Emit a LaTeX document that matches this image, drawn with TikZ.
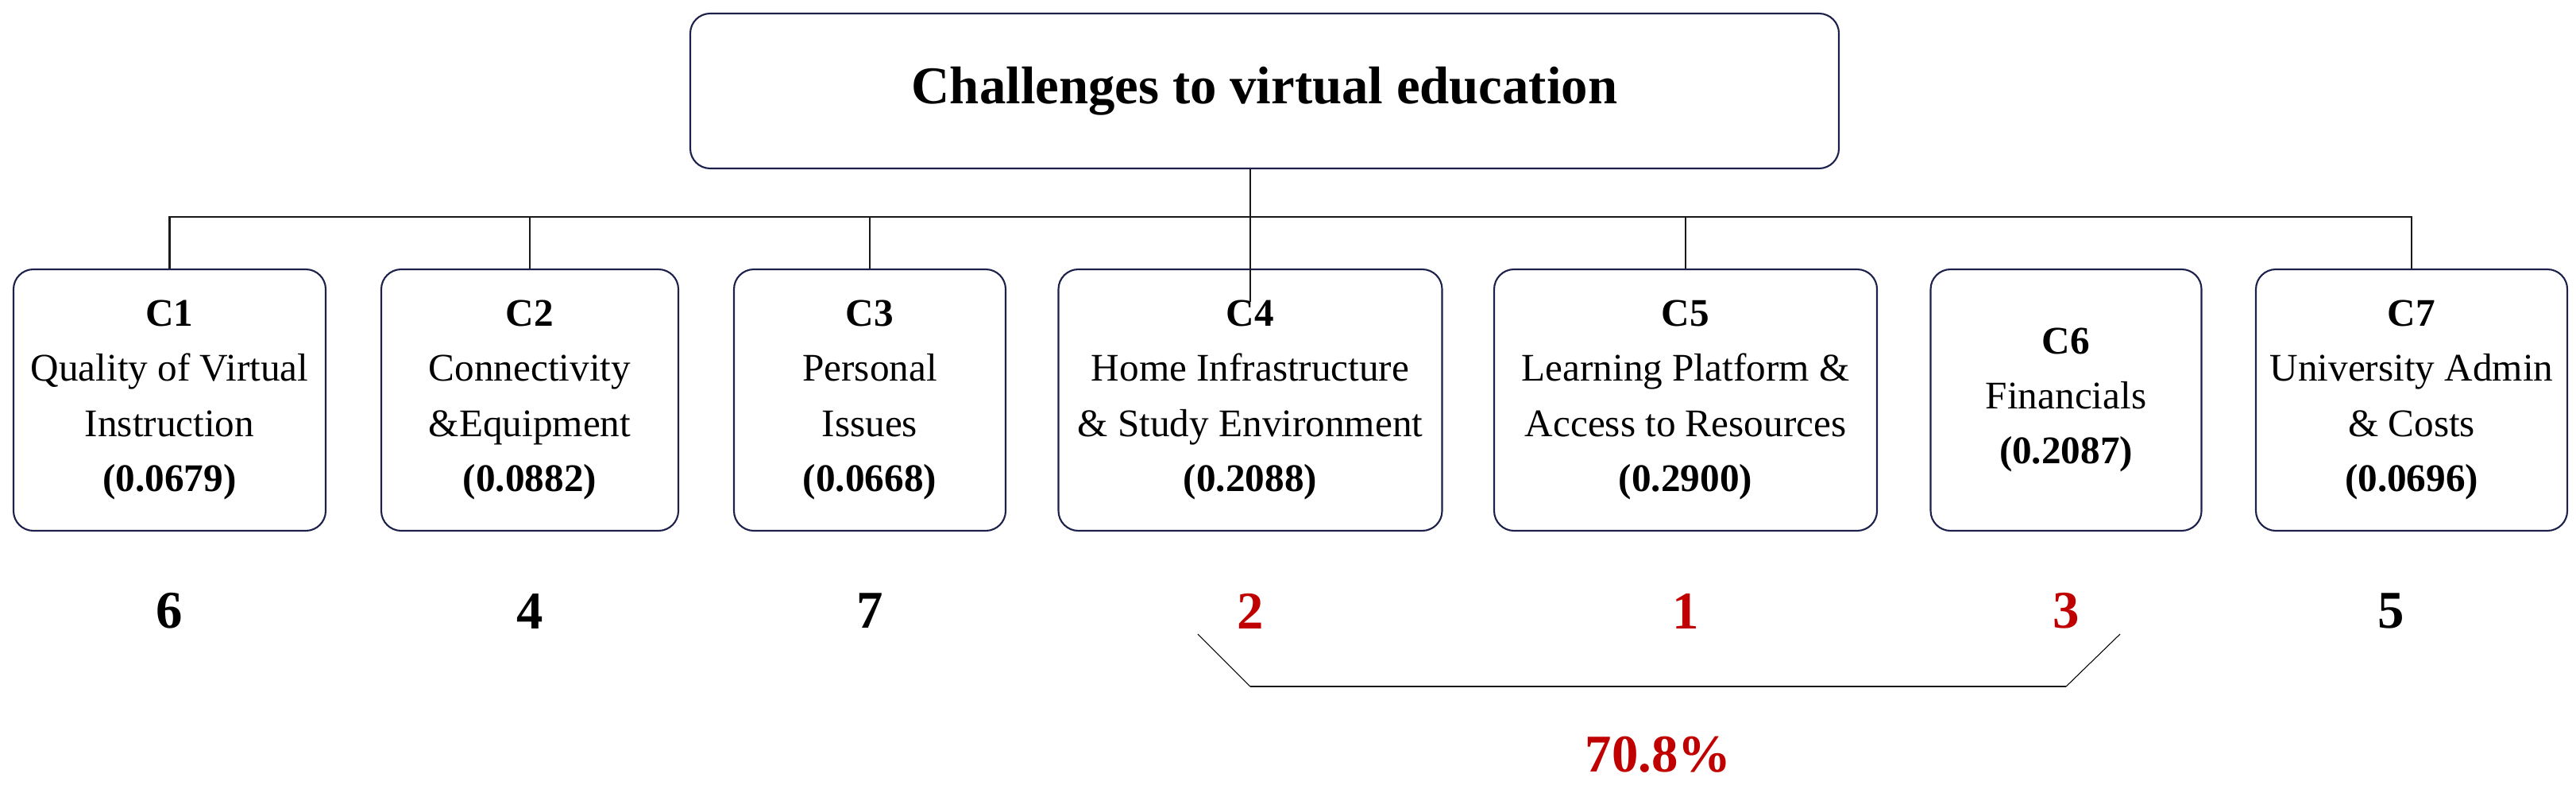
\documentclass[tikz,border=0pt]{standalone}
\usepackage{fontspec}
\setmainfont{Liberation Serif}
\usetikzlibrary{calc}

\definecolor{boxline}{RGB}{28,32,74}
\definecolor{rankred}{RGB}{192,0,0}

\tikzset{
    critbox/.style={draw=boxline, line width=0.6pt, rounded corners=0.25cm,
        align=center, minimum height=3.29cm, inner sep=0pt,
        font=\fontsize{14}{19.7}\selectfont},
    goalbox/.style={draw=boxline, line width=0.6pt, rounded corners=0.25cm,
        minimum width=14.46cm, minimum height=1.95cm,
        font=\fontsize{19}{23}\selectfont\bfseries},
    rank/.style={font=\fontsize{19}{23}\selectfont\bfseries, inner sep=0pt},
    link/.style={draw=black!90, line width=0.5pt}
}

\begin{document}
\begin{tikzpicture}
    % --- ПОЛЕ ---
    \useasboundingbox (0,0) rectangle (32.43,-9.88);
    \def\Ybox{-5.035} % центр блоков по высоте
    \def\Ybus{-2.73}  % высота шины

    % --- ЦЕЛЬ ---
    \node[goalbox] (title) at (15.92,-1.145) {Challenges to virtual education};

    % --- КРИТЕРИИ ---
    \node[critbox, minimum width=3.93cm] (c1) at (2.135,\Ybox)
        {\textbf{C1}\\Quality of Virtual\\Instruction\\\textbf{(0.0679)}};
    \node[critbox, minimum width=3.74cm] (c2) at (6.67,\Ybox)
        {\textbf{C2}\\Connectivity\\\&Equipment\\\textbf{(0.0882)}};
    \node[critbox, minimum width=3.42cm] (c3) at (10.95,\Ybox)
        {\textbf{C3}\\Personal\\Issues\\\textbf{(0.0668)}};
    \node[critbox, minimum width=4.83cm] (c4) at (15.74,\Ybox)
        {\textbf{C4}\\Home Infrastructure\\\& Study Environment\\\textbf{(0.2088)}};
    \node[critbox, minimum width=4.82cm] (c5) at (21.22,\Ybox)
        {\textbf{C5}\\Learning Platform \&\\Access to Resources\\\textbf{(0.2900)}};
    \node[critbox, minimum width=3.41cm] (c6) at (26.01,\Ybox)
        {\textbf{C6}\\Financials\\\textbf{(0.2087)}};
    \node[critbox, minimum width=3.92cm] (c7) at (30.36,\Ybox)
        {\textbf{C7}\\University Admin\\\& Costs\\\textbf{(0.0696)}};

    % --- СВЯЗИ ---
    \coordinate (bus) at (0,\Ybus);
    \draw[line width=0.65pt, black!90] (c1.north) -- (c1.north |- bus)
        -- (c7.north |- bus) -- (c7.north);
    \draw[link] (c2.north) -- (c2.north |- bus);
    \draw[link] (c3.north) -- (c3.north |- bus);
    \draw[link] (c5.north) -- (c5.north |- bus);
    % стойка от цели заходит внутрь C4
    \draw[link] (title.south -| c4.north) -- ([yshift=-0.42cm]c4.north);

    % --- РАНГИ ---
    \node[rank] (r1) at ([yshift=-1cm]c1.south) {6};
    \node[rank] (r2) at ([yshift=-1cm]c2.south) {4};
    \node[rank] (r3) at ([yshift=-1cm]c3.south) {7};
    \node[rank, rankred] (r4) at ([yshift=-1cm]c4.south) {2};
    \node[rank, rankred] (r5) at ([yshift=-1cm]c5.south) {1};
    \node[rank, rankred] (r6) at ([yshift=-1cm]c6.south) {3};
    \node[rank] (r7) at ([xshift=-0.26cm,yshift=-1cm]c7.south) {5};

    % --- СКОБКА ---
    \coordinate (bl) at ([yshift=-0.95cm]r4.center);
    \coordinate (br) at ([yshift=-0.95cm]r6.center);
    \draw[line width=0.3pt] ([shift={(-0.66,0.66)}]bl) -- (bl);
    \draw[line width=0.3pt] ([shift={(0.68,0.66)}]br) -- (br);
    \draw[line width=0.75pt, black!90] (bl) -- (br);

    \node[rank, rankred] (pct) at ([yshift=-0.86cm]$(bl)!0.5!(br)$) {70.8\%};

\end{tikzpicture}
\end{document}
